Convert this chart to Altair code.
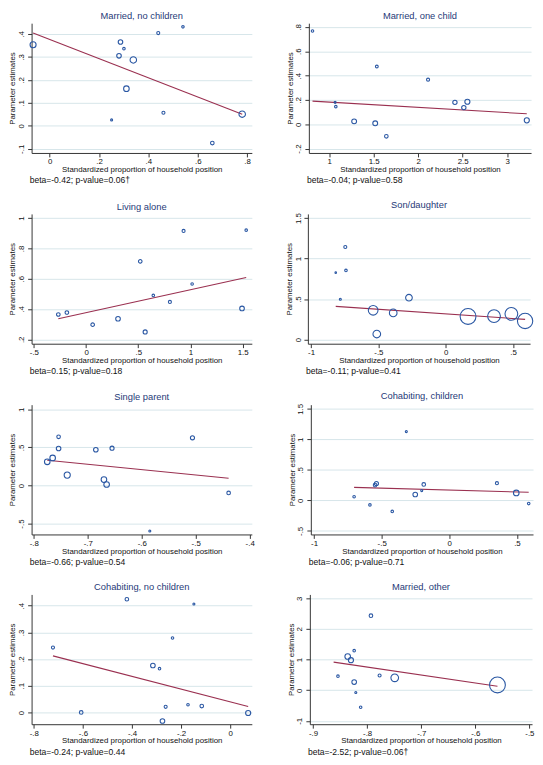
import altair as alt
import pandas as pd

# ---------------- data ----------------
TITLES = ["Married, no children", "Married, one child", "Living alone", "Son/daughter",
          "Single parent", "Cohabiting, children", "Cohabiting, no children", "Married, other"]
NOTES = ["beta=-0.42; p-value=0.06\u2020", "beta=-0.04; p-value=0.58",
         "beta=0.15; p-value=0.18", "beta=-0.11; p-value=0.41",
         "beta=-0.66; p-value=0.54", "beta=-0.06; p-value=0.71",
         "beta=-0.24; p-value=0.44", "beta=-2.52; p-value=0.06\u2020"]

# Married, no children
P1_X = [-0.067, 0.287, 0.301, 0.281, 0.339, 0.311, 0.251, 0.440, 0.540, 0.461, 0.659, 0.780]
P1_Y = [0.353, 0.365, 0.336, 0.305, 0.287, 0.162, 0.026, 0.404, 0.431, 0.057, -0.075, 0.051]
P1_W = [1.4, 0.8, 0.25, 0.8, 1.6, 1.2, 0.16, 0.36, 0.25, 0.36, 0.5, 1.6]
P1_FIT_X = [-0.067, 0.780]
P1_FIT_Y = [0.404, 0.051]

# Married, one child
P2_X = [0.812, 1.066, 1.074, 1.280, 1.517, 1.535, 1.642, 2.111, 2.413, 2.553, 2.513, 3.221]
P2_Y = [0.767, 0.180, 0.145, 0.024, 0.008, 0.475, -0.099, 0.367, 0.180, 0.185, 0.137, 0.032]
P2_W = [0.25, 0.16, 0.25, 0.9, 0.9, 0.3, 0.5, 0.36, 0.72, 1.0, 0.72, 1.0]
P2_FIT_X = [0.812, 3.221]
P2_FIT_Y = [0.190, 0.086]

# Living alone
P3_X = [-0.266, -0.184, 0.063, 0.306, 0.519, 0.566, 0.644, 0.803, 0.934, 1.016, 1.494, 1.534]
P3_Y = [0.364, 0.377, 0.297, 0.336, 0.715, 0.249, 0.490, 0.447, 0.916, 0.565, 0.404, 0.921]
P3_W = [0.49, 0.49, 0.49, 0.81, 0.49, 0.64, 0.25, 0.36, 0.36, 0.25, 0.81, 0.25]
P3_FIT_X = [-0.266, 1.534]
P3_FIT_Y = [0.336, 0.608]

# Son/daughter
P4_X = [-0.817, -0.783, -0.746, -0.741, -0.539, -0.512, -0.390, -0.273, 0.166, 0.359, 0.488, 0.590]
P4_Y = [0.826, 0.497, 1.143, 0.854, 0.361, 0.068, 0.329, 0.517, 0.285, 0.289, 0.317, 0.229]
P4_W = [0.09, 0.16, 0.36, 0.25, 3.6, 2.25, 2.25, 1.7, 9.6, 6.25, 6.25, 9.0]
P4_FIT_X = [-0.817, 0.590]
P4_FIT_Y = [0.409, 0.249]

# Single parent
P5_X = [-0.775, -0.765, -0.754, -0.754, -0.738, -0.685, -0.670, -0.665, -0.655, -0.585, -0.506, -0.439]
P5_Y = [0.311, 0.362, 0.639, 0.486, 0.136, 0.469, 0.077, 0.013, 0.490, -0.597, 0.626, -0.098]
P5_W = [1.2, 1.2, 0.5, 0.8, 1.44, 0.8, 1.2, 1.2, 0.64, 0.16, 0.64, 0.5]
P5_FIT_X = [-0.775, -0.439]
P5_FIT_Y = [0.332, 0.094]

# Cohabiting, children
P6_X = [-0.704, -0.587, -0.549, -0.539, -0.422, -0.318, -0.252, -0.204, -0.189, 0.352, 0.495, 0.587]
P6_Y = [0.059, -0.074, 0.250, 0.277, -0.181, 1.128, 0.096, 0.160, 0.261, 0.282, 0.122, -0.053]
P6_W = [0.25, 0.25, 0.5, 0.64, 0.25, 0.16, 0.81, 0.16, 0.5, 0.36, 1.2, 0.25]
P6_FIT_X = [-0.704, 0.587]
P6_FIT_Y = [0.213, 0.133]

# Cohabiting, no children
P7_X = [-0.722, -0.607, -0.421, -0.315, -0.288, -0.276, -0.263, -0.235, -0.172, -0.148, -0.116, 0.073]
P7_Y = [0.243, 0.000, 0.424, 0.176, 0.164, -0.032, 0.021, 0.279, 0.029, 0.406, 0.024, -0.002]
P7_W = [0.36, 0.5, 0.5, 0.81, 0.25, 0.81, 0.36, 0.25, 0.25, 0.16, 0.5, 1.0]
P7_FIT_X = [-0.722, 0.073]
P7_FIT_Y = [0.212, 0.022]

# Married, other
P8_X = [-0.854, -0.836, -0.830, -0.824, -0.824, -0.821, -0.812, -0.793, -0.777, -0.749, -0.559]
P8_Y = [0.459, 1.099, 0.981, 1.291, 0.267, -0.075, -0.555, 2.432, 0.480, 0.405, 0.171]
P8_W = [0.25, 1.2, 1.0, 0.25, 0.81, 0.16, 0.25, 0.5, 0.36, 2.25, 9.6]
P8_FIT_X = [-0.862, -0.559]
P8_FIT_Y = [0.917, 0.128]

# axis ticks and ranges
X_TICKS = [[0, 0.2, 0.4, 0.6, 0.8], [1, 1.5, 2, 2.5, 3], [-0.5, 0, 0.5, 1, 1.5], [-1, -0.5, 0, 0.5],
           [-0.8, -0.7, -0.6, -0.5, -0.4], [-1, -0.5, 0, 0.5], [-0.8, -0.6, -0.4, -0.2, 0],
           [-0.9, -0.8, -0.7, -0.6, -0.5]]
Y_TICKS = [[-0.1, 0, 0.1, 0.2, 0.3, 0.4], [-0.2, 0, 0.2, 0.4, 0.6, 0.8], [0.2, 0.4, 0.6, 0.8, 1],
           [0, 0.5, 1, 1.5], [-0.5, 0, 0.5, 1], [-0.5, 0, 0.5, 1, 1.5], [0, 0.1, 0.2, 0.3, 0.4],
           [-1, 0, 1, 2, 3]]
X_DOM = [[-0.073, 0.819], [0.771, 3.269], [-0.522, 1.588], [-1.024, 0.627],
         [-0.804, -0.396], [-1.024, 0.619], [-0.809, 0.088], [-0.906, -0.495]]
Y_DOM = [[-0.118, 0.447], [-0.236, 0.831], [0.171, 1.028], [-0.052, 1.552],
         [-0.643, 1.061], [-0.559, 1.569], [-0.044, 0.442], [-1.109, 3.125]]

POINTS = [(P1_X, P1_Y, P1_W), (P2_X, P2_Y, P2_W), (P3_X, P3_Y, P3_W), (P4_X, P4_Y, P4_W),
          (P5_X, P5_Y, P5_W), (P6_X, P6_Y, P6_W), (P7_X, P7_Y, P7_W), (P8_X, P8_Y, P8_W)]
FITS = [(P1_FIT_X, P1_FIT_Y), (P2_FIT_X, P2_FIT_Y), (P3_FIT_X, P3_FIT_Y), (P4_FIT_X, P4_FIT_Y),
        (P5_FIT_X, P5_FIT_Y), (P6_FIT_X, P6_FIT_Y), (P7_FIT_X, P7_FIT_Y), (P8_FIT_X, P8_FIT_Y)]

# ---------------- styling ----------------
FONT = "Liberation Sans"
MARKER = "#2A57A3"
FITC = "#9A3050"
TITLEC = "#1F3A78"
GRID = "#D6E6EA"
H = 132
W_LEFT = 224
W_RIGHT = 226
LABEL_EXPR = "replace(toString(datum.value), '0.', '.')"


def panel(i, width):
    xs, ys, ws = POINTS[i]
    fx, fy = FITS[i]
    pts = pd.DataFrame({"x": xs, "y": ys, "w": ws})
    fit = pd.DataFrame({"x": fx, "y": fy})
    note = pd.DataFrame({"note": [NOTES[i]]})

    xenc = alt.X("x:Q",
                 scale=alt.Scale(domain=X_DOM[i], nice=False, zero=False),
                 axis=alt.Axis(values=X_TICKS[i], tickCount=20, labelExpr=LABEL_EXPR, grid=False,
                               labelOverlap=False, labelFlush=False,
                               title="Standardized proportion of household position",
                               titlePadding=0, labelPadding=1, tickSize=4))
    yenc = alt.Y("y:Q",
                 scale=alt.Scale(domain=Y_DOM[i], nice=False, zero=False),
                 axis=alt.Axis(values=Y_TICKS[i], tickCount=20, labelExpr=LABEL_EXPR, grid=True,
                               labelOverlap=False, labelFlush=False,
                               title="Parameter estimates", labelAngle=270,
                               labelAlign="center", labelBaseline="bottom",
                               titlePadding=1, labelPadding=2, tickSize=4))

    fit_layer = alt.Chart(fit).mark_line(color=FITC, strokeWidth=1.1).encode(x=xenc, y=yenc)
    pt_layer = alt.Chart(pts).mark_point(shape="circle", filled=False, color=MARKER,
                                         strokeWidth=1.1, opacity=1).encode(
        x="x:Q", y="y:Q",
        size=alt.Size("w:Q", scale=alt.Scale(domain=[0, 1], range=[0, 27]), legend=None))
    note_layer = alt.Chart(note).mark_text(align="left", baseline="middle", fontSize=8.7,
                                           font=FONT, color="#111").encode(
        x=alt.value(-2), y=alt.value(H + 28), text="note:N")

    return alt.layer(fit_layer, pt_layer, note_layer).properties(
        width=width, height=H,
        title=alt.TitleParams(TITLES[i], fontSize=9.5, font=FONT, fontWeight="normal",
                              color=TITLEC, anchor="middle", offset=3))


rows = []
for r in range(4):
    rows.append(alt.hconcat(panel(2 * r, W_LEFT), panel(2 * r + 1, W_RIGHT), spacing=34))

chart = alt.vconcat(*rows, spacing=15).properties(
    padding={"left": 0, "top": -4, "right": 0, "bottom": 0}
).configure_view(
    stroke=None
).configure_axis(
    labelFont=FONT, titleFont=FONT, labelFontSize=8, titleFontSize=8,
    labelColor="#111", titleColor="#111", titleFontWeight="normal",
    domainColor="#333", tickColor="#333", domainWidth=1, tickWidth=1,
    gridColor=GRID, gridWidth=1
)

chart.save("out.html", embed_options={"renderer": "svg", "actions": False})
